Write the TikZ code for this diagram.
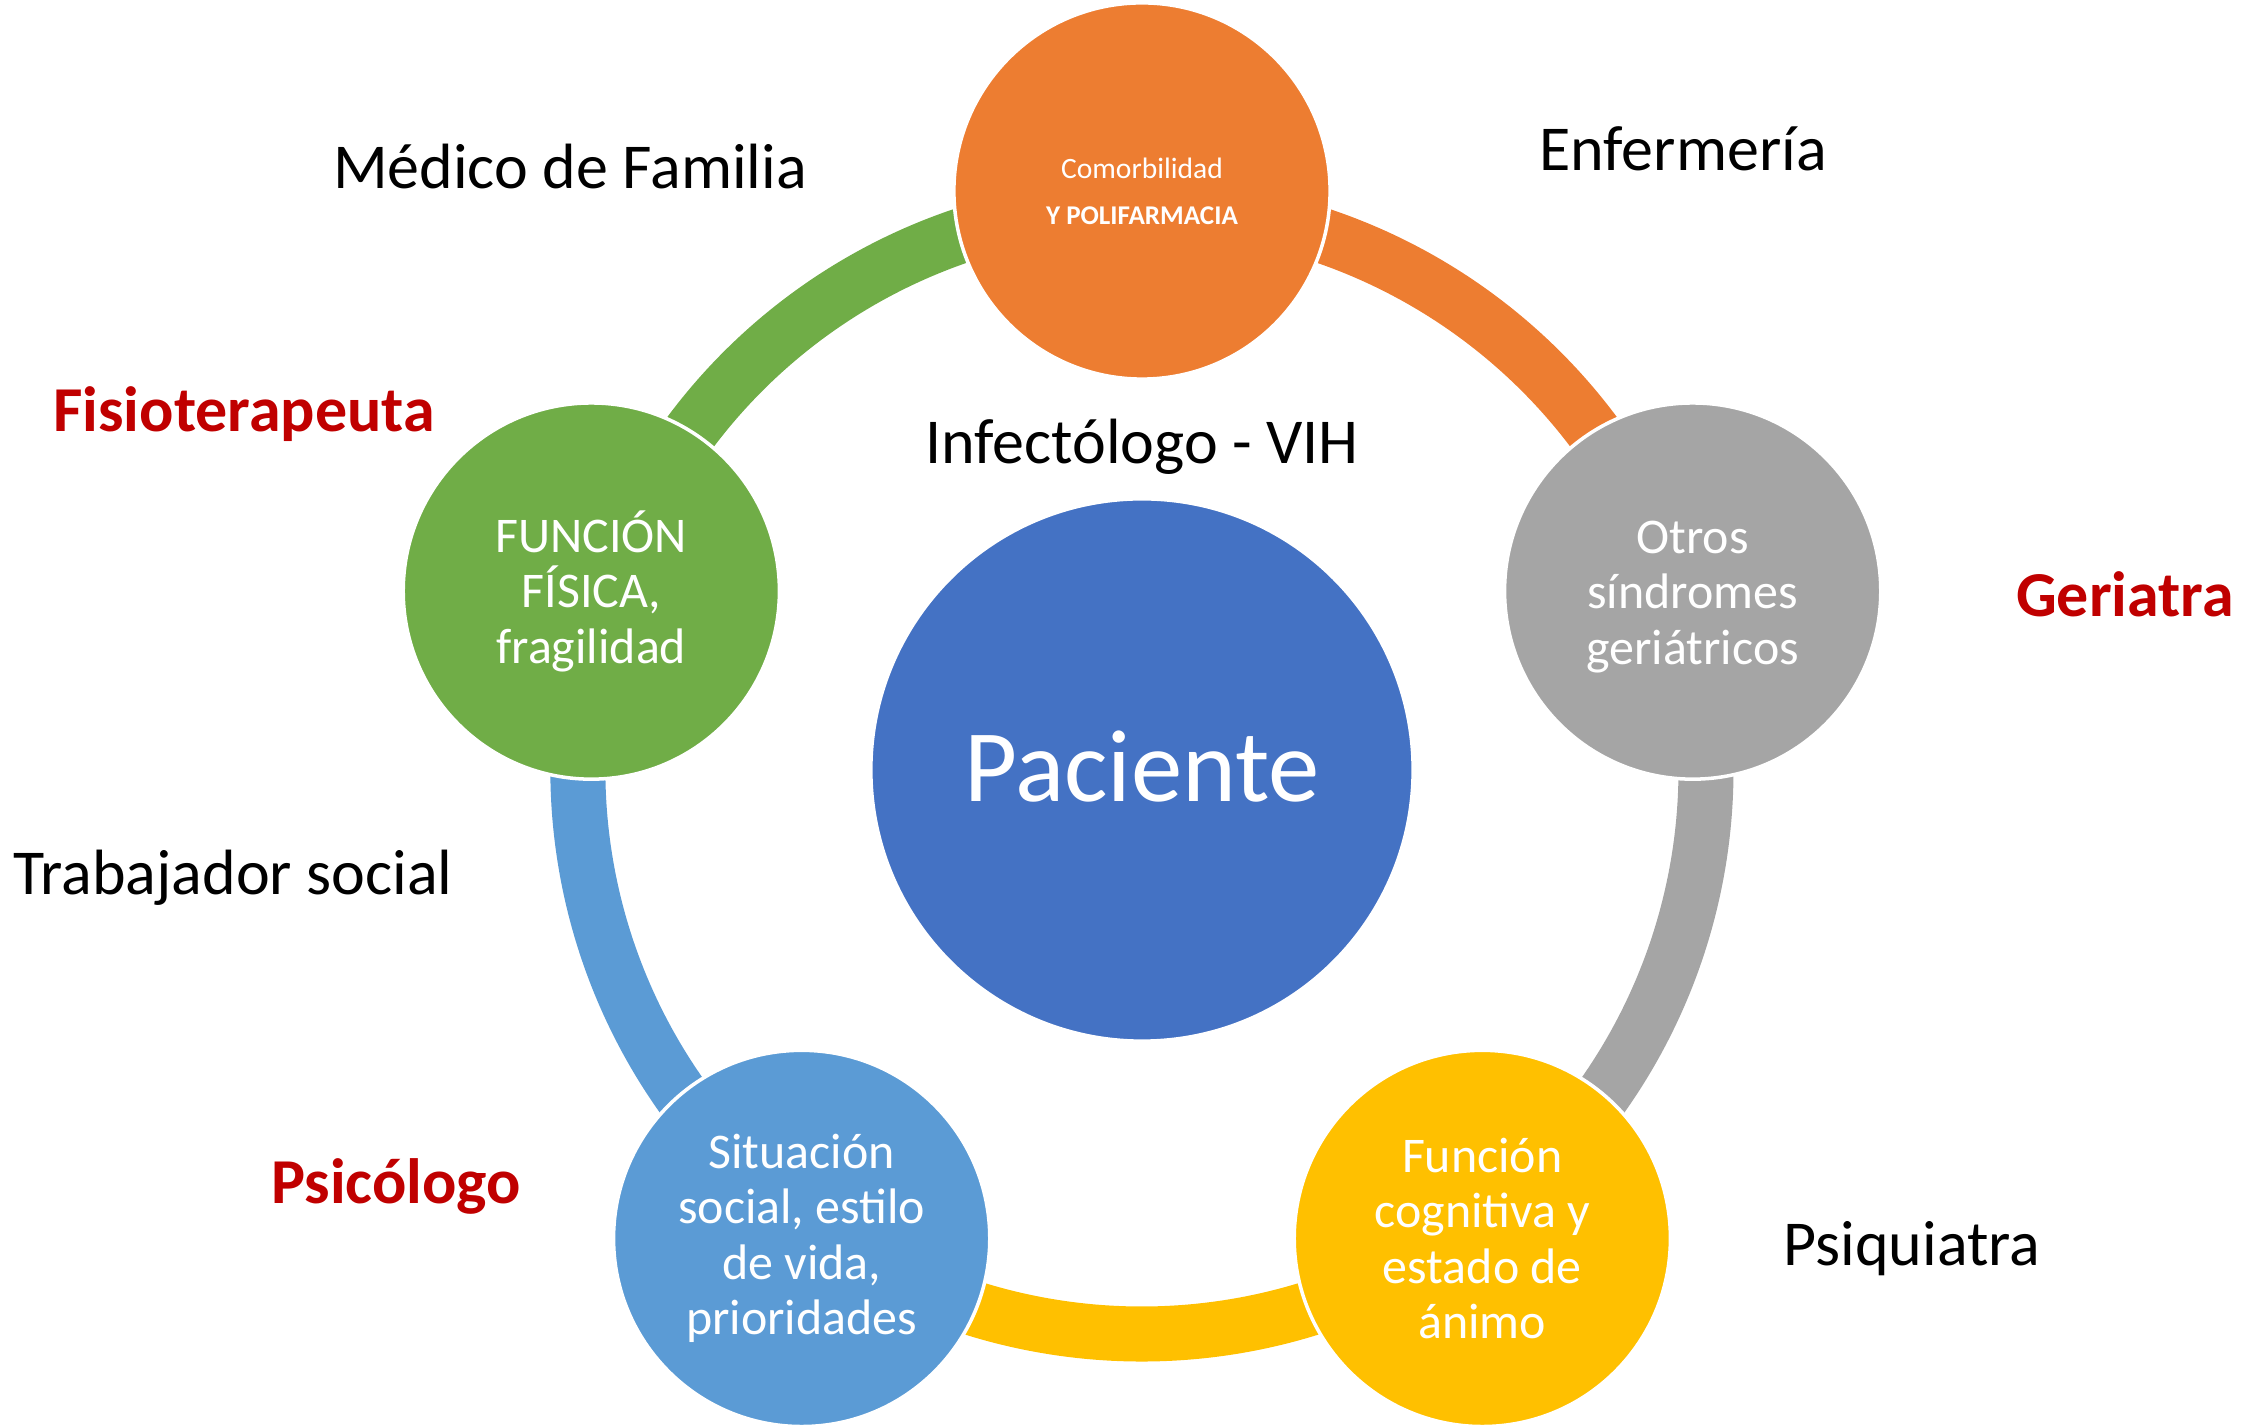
\documentclass[tikz,border=0pt]{standalone}
\usepackage{fontspec}
\setmainfont{Carlito}
\usepackage{tikz}
\usetikzlibrary{calc,backgrounds}

\definecolor{corange}{HTML}{ED7D31}
\definecolor{cgray}{HTML}{A5A5A5}
\definecolor{cyellow}{HTML}{FFC000}
\definecolor{csky}{HTML}{5B9BD5}
\definecolor{cgreen}{HTML}{70AD47}
\definecolor{cblue}{HTML}{4472C4}
\definecolor{cred}{HTML}{C00000}

\begin{document}
\begin{tikzpicture}[
    x=0.01cm, y=0.01cm,
    topic/.style={circle, draw=white, line width=1pt, minimum size=3.76cm, inner sep=0pt, align=center, text=white, font=\fontsize{14.2}{15.8}\selectfont},
    ringarc/.style={line width=0.55cm},
    lbl/.style={anchor=base, font=\fontsize{18.2}{22}\selectfont},
    role/.style={anchor=base, font=\fontsize{18.2}{22}\selectfont\bfseries, text=cred}
]
\useasboundingbox (-1142,-658) rectangle (1125,770);

% Centre - patient
\node[circle, fill=cblue, draw=white, line width=1pt, minimum size=5.42cm, text=white,
      font=\fontsize{29.2}{35}\selectfont, text height=23.3pt, text depth=5.2pt] (paciente) at (0,0) {Paciente};

% Topics round the ring
\node[topic, fill=corange, font=\fontsize{8.4}{13}\selectfont] (comorb) at (90:579) {Comorbilidad\\
{\fontsize{7.7}{13}\selectfont\bfseries Y POLIFARMACIA}};
\node[topic, fill=cgray] (otros) at (18:579) {\rule{0pt}{12.5pt}Otros\\
s\'indromes\\
geri\'atricos};
\node[topic, fill=cyellow] (cogn) at (-54:579) {Funci\'on\\
cognitiva y\\
estado de\\
\'animo};
\node[topic, fill=csky] (social) at (-126:579) {Situaci\'on\\
social, estilo\\
de vida,\\
prioridades};
\node[topic, fill=cgreen] (fisica) at (162:579) {FUNCI\'ON\\
F\'ISICA,\\
fragilidad};

% Ring segments
\begin{scope}[on background layer]
\foreach \n/\a/\c in {comorb/90/corange, otros/18/cgray, cogn/-54/cyellow, social/-126/csky, fisica/162/cgreen}
  \draw[ringarc, \c] ($(paciente)!0.974!(\n)$) arc[start angle=\a, delta angle=-72, radius=5.64cm];
\end{scope}

% Professionals
\node[lbl] (medico) at (-572,581) {M\'edico de Familia};
\node[lbl] (enfermeria) at (541,599) {Enfermer\'ia};
\node[lbl] (infecto) at (0,306) {Infect\'ologo - VIH};
\node[lbl] (trabajador) at (-909,-125) {Trabajador social};
\node[lbl] (psiquiatra) at (770,-495) {Psiquiatra};
\node[role] (fisio) at (-898,338) {Fisioterapeuta};
\node[role] (geriatra) at (983,153) {Geriatra};
\node[role] (psicologo) at (-746,-434) {Psic\'ologo};

\end{tikzpicture}
\end{document}
